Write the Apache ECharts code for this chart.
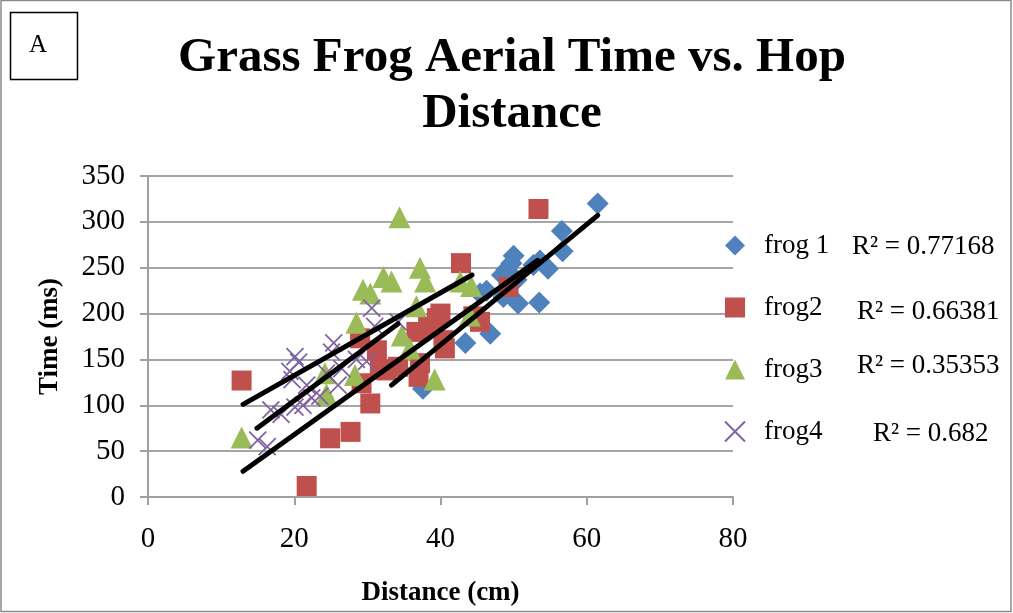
<!DOCTYPE html>
<html>
<head>
<meta charset="utf-8">
<script src="https://cdn.jsdelivr.net/npm/echarts@6/dist/echarts.min.js"></script>
<style>html,body{margin:0;padding:0;background:#fff;}#c{width:1013px;height:613px;}</style>
</head>
<body>
<div id="c"></div>
<script>
var titleLines = ['Grass Frog Aerial Time vs. Hop', 'Distance'];
var xTicks = {min: 0, max: 80, interval: 20};
var yTicks = {min: 0, max: 350, interval: 50};
var seriesNames = ['frog 1', 'frog2', 'frog3', 'frog4'];
var r2Labels = ['R\u00B2 = 0.77168', 'R\u00B2 = 0.66381', 'R\u00B2 = 0.35353', 'R\u00B2 = 0.682'];

var frog1 = [[37.6,118],[38.6,183],[43.4,168],[45.4,222],[46.3,225],[46.8,178],[48.4,242],[48.6,218],[49.0,248],[49.5,233],[49.7,255],[50.0,263],[50.4,237],[50.6,211],[52.7,253],[53.5,212],[53.6,258],[54.7,249],[56.6,290],[56.7,268],[61.5,320]];
var frog2 = [[12.8,127],[21.7,12],[24.9,64],[27.7,71],[29.0,173],[29.2,124],[30.4,102],[31.3,160],[31.7,139],[32.6,138],[34.2,142],[36.7,180],[37.0,131],[37.2,146],[38.3,186],[39.5,195],[40.0,200],[40.4,171],[40.6,162],[42.8,255],[44.5,197],[45.4,191],[49.3,229],[53.4,314]];
var frog3 = [[12.8,65],[24.2,135],[24.4,112],[28.3,133],[28.5,190],[29.4,226],[30.4,222],[32.2,240],[33.3,235],[34.4,305],[34.7,176],[35.8,162],[36.7,208],[37.2,250],[37.9,235],[39.2,128],[42.7,235],[44.2,230],[44.0,198]];
var frog4 = [[15.0,62],[16.3,55],[16.8,95],[18.2,90],[19.4,137],[19.7,128],[20.1,153],[20.6,147],[20.1,98],[21.2,100],[21.7,122],[22.4,108],[23.5,110],[24.4,135],[25.1,158],[25.4,168],[26.0,122],[26.5,140],[28.5,150],[29.9,148],[31.0,186],[30.6,206],[34.2,191]];

var trend1 = [[33.3,122],[61.5,307]];
var trend2 = [[13.0,28],[53.3,258]];
var trend3 = [[13.0,101],[44.3,242]];
var trend4 = [[14.9,75],[34.2,189]];

var SERIF = '"Liberation Serif", "DejaVu Serif", serif';
var colors = ['#4F81BD', '#C0504D', '#9BBB59', '#8064A2'];
var xPath = 'path://M0,0L10,10M10,0L0,10';

function trendSeries(d) {
  return {type: 'line', data: d, symbol: 'none', silent: true, z: 5,
    lineStyle: {color: '#000', width: 5, cap: 'round'}, legendHoverLink: false};
}

var chart = echarts.init(document.getElementById('c'), null, {renderer: 'canvas'});
chart.setOption({
  animation: false,
  backgroundColor: '#fff',
  grid: {left: 148, right: 280, top: 176, bottom: 116},
  title: {
    text: titleLines.join('\n'),
    left: 507, top: 25, textAlign: 'center',
    textStyle: {fontFamily: SERIF, fontWeight: 'bold', fontSize: 49, lineHeight: 56, color: '#000'}
  },
  legend: {
    data: seriesNames,
    orient: 'vertical',
    left: 719, top: 227,
    itemWidth: 20, itemHeight: 20, itemGap: 35,
    textStyle: {fontFamily: SERIF, fontSize: 27, color: '#000', lineHeight: 22, padding: [0, 0, 0, 14]}
  },
  xAxis: {
    type: 'value', min: xTicks.min, max: xTicks.max, interval: xTicks.interval,
    name: 'Distance (cm)', nameLocation: 'middle', nameGap: 83,
    nameTextStyle: {fontFamily: SERIF, fontWeight: 'bold', fontSize: 27, color: '#000'},
    axisLine: {show: true, lineStyle: {color: '#a0a0a0', width: 2}},
    axisTick: {show: true, length: 8, lineStyle: {color: '#a0a0a0', width: 2}},
    axisLabel: {fontFamily: SERIF, fontSize: 29, color: '#000', margin: 28},
    splitLine: {show: false}
  },
  yAxis: {
    type: 'value', min: yTicks.min, max: yTicks.max, interval: yTicks.interval,
    name: 'Time (ms)', nameLocation: 'middle', nameGap: 84, nameRotate: 90,
    nameTextStyle: {fontFamily: SERIF, fontWeight: 'bold', fontSize: 27, color: '#000'},
    axisLine: {show: true, lineStyle: {color: '#a0a0a0', width: 2}},
    axisTick: {show: true, length: 8, lineStyle: {color: '#a0a0a0', width: 2}},
    axisLabel: {fontFamily: SERIF, fontSize: 29, color: '#000', margin: 23},
    splitLine: {show: true, lineStyle: {color: '#a6a6a6', width: 2}}
  },
  series: [
    {name: seriesNames[0], type: 'scatter', data: frog1, symbol: 'diamond', symbolSize: 22, itemStyle: {color: colors[0], opacity: 1}},
    {name: seriesNames[1], type: 'scatter', data: frog2, symbol: 'rect', symbolSize: 20, itemStyle: {color: colors[1], opacity: 1}},
    {name: seriesNames[2], type: 'scatter', data: frog3, symbol: 'triangle', symbolSize: 22, itemStyle: {color: colors[2], opacity: 1}},
    {name: seriesNames[3], type: 'scatter', data: frog4, symbol: xPath, symbolSize: 17, itemStyle: {color: 'rgba(0,0,0,0)', borderColor: colors[3], borderWidth: 1.8, opacity: 1}},
    trendSeries(trend1), trendSeries(trend2), trendSeries(trend3), trendSeries(trend4)
  ],
  graphic: [
    {type: 'rect', shape: {x: 1, y: 0.5, width: 1010, height: 611}, style: {fill: 'none', stroke: '#8c8c8c', lineWidth: 1.5}, silent: true, z: -1},
    {type: 'rect', shape: {x: 10.5, y: 12.5, width: 67, height: 67}, style: {fill: 'none', stroke: '#000', lineWidth: 1.5}, silent: true},
    {type: 'text', x: 38, y: 45, style: {text: 'A', font: '25px ' + SERIF, fill: '#000', textAlign: 'center', textVerticalAlign: 'middle'}},
    {type: 'text', x: 852, y: 247, style: {text: r2Labels[0], font: '27px ' + SERIF, fill: '#000', textVerticalAlign: 'middle'}},
    {type: 'text', x: 857, y: 312, style: {text: r2Labels[1], font: '27px ' + SERIF, fill: '#000', textVerticalAlign: 'middle'}},
    {type: 'text', x: 857, y: 366, style: {text: r2Labels[2], font: '27px ' + SERIF, fill: '#000', textVerticalAlign: 'middle'}},
    {type: 'text', x: 873, y: 434, style: {text: r2Labels[3], font: '27px ' + SERIF, fill: '#000', textVerticalAlign: 'middle'}}
  ]
});
</script>
</body>
</html>
